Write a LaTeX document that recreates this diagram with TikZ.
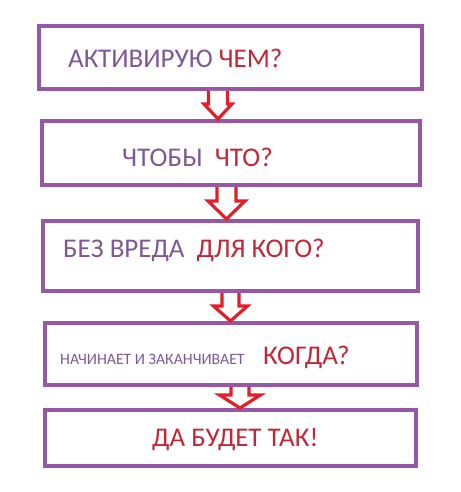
\documentclass[tikz,border=0pt]{standalone}
\usepackage{fontspec}
\setmainfont{Carlito}
\usetikzlibrary{positioning}

\definecolor{boxpurple}{RGB}{152,86,166}
\definecolor{txtpurple}{RGB}{128,88,148}
\definecolor{txtred}{RGB}{192,40,56}
\definecolor{arrred}{RGB}{226,30,40}

\tikzstyle{stage} = [draw=boxpurple, line width=4pt, rectangle, inner sep=0pt]
\tikzstyle{txt} = [anchor=base west, inner sep=0pt, text=txtpurple,
    font=\fontsize{27}{31}\selectfont]
\tikzstyle{hollow} = [draw=arrred, line width=3.2pt, fill=white, line join=miter]

\begin{document}
\begin{tikzpicture}[x=1pt, y=-1pt, node distance=28pt]
    \useasboundingbox (0,0) rectangle (460,492);
    \node [stage, minimum width=383pt, minimum height=63pt] at (230.5,57.5) (activate) {};
    \node [stage, minimum width=378pt, minimum height=64pt, below=of activate] (purpose) {};
    \node [stage, minimum width=375pt, minimum height=70pt, below=32pt of purpose] (harm) {};
    \node [stage, minimum width=372pt, minimum height=62pt, below=of harm] (timing) {};
    \node [stage, minimum width=371pt, minimum height=56pt, below=21pt of timing] (result) {};
    % texts
    \node [txt] at (68,68) (activateText) {АКТИВИРУЮ \textcolor{txtred}{ЧЕМ?}};
    \node [txt] at (122,166) (purposeText) {ЧТОБЫ\ \ \textcolor{txtred}{ЧТО?}};
    \node [txt] at (63,257) (harmText) {БЕЗ ВРЕДА\ \ \textcolor{txtred}{ДЛЯ КОГО?}};
    \node [txt, font=\fontsize{15.8}{18}\selectfont] at (60,364) (timingText) {НАЧИНАЕТ И ЗАКАНЧИВАЕТ};
    \node [txt, text=txtred] at (263,364) (timingAsk) {КОГДА?};
    \node [txt, text=txtred] at (152,446) (resultText) {ДА БУДЕТ ТАК!};
    % arrows
    \foreach \a/\b/\x/\s/\h/\l in {activate/purpose/218/9.5/14/15,
        purpose/harm/226.5/9.5/18.5/18, harm/timing/230.5/8.5/17/15,
        timing/result/240/9/20.5/13} {
        \coordinate (top) at (\x,0 |- \a.south);
        \coordinate (tip) at (\x,0 |- \b.north);
        \draw [hollow] ([xshift=-\s pt]top) -- ([xshift=-\s pt, yshift=\l pt]tip)
            -- ([xshift=-\h pt, yshift=\l pt]tip) -- (tip)
            -- ([xshift=\h pt, yshift=\l pt]tip) -- ([xshift=\s pt, yshift=\l pt]tip)
            -- ([xshift=\s pt]top);
    }
\end{tikzpicture}
\end{document}
